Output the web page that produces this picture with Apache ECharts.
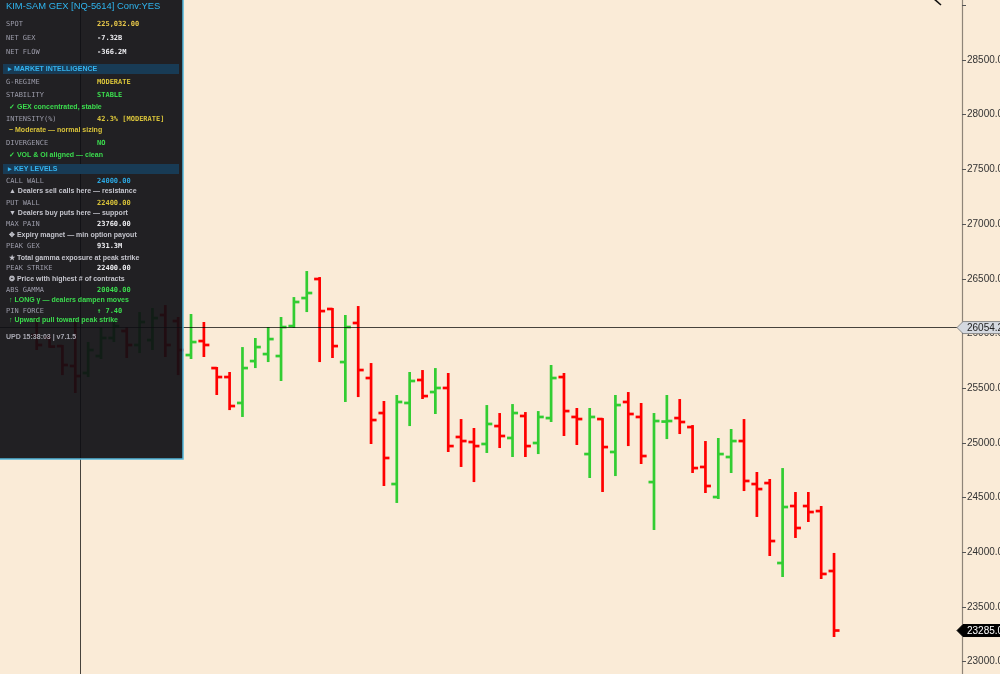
<!DOCTYPE html>
<html><head><meta charset="utf-8">
<script src="https://cdn.jsdelivr.net/npm/echarts@6/dist/echarts.min.js"></script>
<style>html,body{margin:0;padding:0;background:#faebd7;overflow:hidden}#c{width:1000px;height:674px}</style>
</head><body><div id="c"></div>
<script>
// ---- OHLC data (one entry per bar, oldest first) ----
const opens  = [25986,25960,25885,25703,25639,25794,25959,26023,25895,25940,26169,26114,
  25803,25931,25684,25602,25365,25748,25812,25794,26068,26324,26498,26224,25739,26096,
  25593,25273,24624,25365,25575,25465,25502,25054,25008,24990,25154,25045,25246,24999,
  25227,25602,25237,24898,25218,24917,25374,25237,24642,25195,25227,25145,24780,24505,
  24871,25017,24624,24633,23902,24423,24423,24377,23829];
const highs  = [26151,25986,25895,26105,25922,26059,26105,26059,26196,26233,26260,26151,
  26178,26105,25694,25648,25876,25959,26059,26151,26333,26571,26516,26233,26169,26251,
  25730,25383,25438,25648,25666,25684,25639,25218,25136,25346,25273,25355,25282,25291,
  25712,25639,25319,25319,25227,25438,25465,25365,25273,25438,25401,25163,25017,25045,
  25127,25218,24734,24670,24770,24551,24551,24423,23994];
const lows   = [25849,25870,25620,25456,25602,25767,25922,25776,25821,25849,25785,25620,
  25767,25785,25438,25300,25237,25684,25739,25566,26050,26196,25739,25776,25374,25419,
  24990,24606,24451,25154,25401,25264,24917,24780,24642,24908,24953,24871,24871,24898,
  25191,25063,24981,24679,24551,24697,24971,24807,24204,25035,25081,24725,24542,24487,
  24725,24560,24323,23966,23774,24131,24277,23756,23226];
const closes = [25895,25880,25712,25611,25849,25959,26068,25895,26105,26141,25895,25849,
  25922,25895,25602,25337,25684,25876,25949,26059,26288,26370,26205,25885,26059,25666,
  25209,24862,25374,25566,25428,25502,24971,25017,24971,25173,25063,25273,24971,25237,
  25593,25291,25218,25237,24962,25346,25264,24880,25200,25200,25191,24770,24606,24898,
  25017,24652,24578,24103,24414,24222,24368,23802,23285];

// ---- overlay readings ----
const crossPrice = 26054.2;   // horizontal cross-hair price
const crossBar   = 3.37;      // vertical cross-hair position (bar index)

const panelTitle = 'KIM-SAM GEX [NQ-5614] Conv:YES';
const panelRows = [
  ['kv','SPOT','225,032.00','yellow'],
  ['kv','NET GEX','-7.32B','white'],
  ['kv','NET FLOW','-366.2M','white'],
  ['sec','\u25B8 MARKET INTELLIGENCE'],
  ['kv','G-REGIME','MODERATE','gold'],
  ['kv','STABILITY','STABLE','green'],
  ['note','\u2713 GEX concentrated, stable','green'],
  ['kv','INTENSITY(%)','42.3% [MODERATE]','gold'],
  ['note','~ Moderate \u2014 normal sizing','gold'],
  ['kv','DIVERGENCE','NO','green'],
  ['note','\u2713 VOL & OI aligned \u2014 clean','green'],
  ['sec','\u25B8 KEY LEVELS'],
  ['kv','CALL WALL','24000.00','cyan'],
  ['note','\u25B2 Dealers sell calls here \u2014 resistance','gray'],
  ['kv','PUT WALL','22400.00','gold'],
  ['note','\u25BC Dealers buy puts here \u2014 support','gray'],
  ['kv','MAX PAIN','23760.00','white'],
  ['note','\u2725 Expiry magnet \u2014 min option payout','gray'],
  ['kv','PEAK GEX','931.3M','white'],
  ['note','\u2605 Total gamma exposure at peak strike','gray'],
  ['kv','PEAK STRIKE','22400.00','white'],
  ['note','\u2742 Price with highest # of contracts','gray'],
  ['kv','ABS GAMMA','20040.00','green'],
  ['note','\u2191 LONG \u03B3 \u2014 dealers dampen moves','green'],
  ['kv','PIN FORCE','\u2191 7.40','green'],
  ['note','\u2191 Upward pull toward peak strike','green'],
  ['foot','UPD 15:38:03 | v7.1.5']
];

// ---- styles / layout ----
const GREEN = '#32cd32', RED = '#ff0000';
const PAL = {yellow:'#e8c84a', gold:'#d9c33a', white:'#ececf0', green:'#3bdc4e', cyan:'#2ba8e2', gray:'#c4c4cc'};
const rowY = [24,38,52,69,82,95,107,119,130,143,155,169,181.5,191,203.5,213,224.5,235.5,246.5,258,268.5,279,290.5,300,311,320.5,337.5];

const ohlc = opens.map((o, i) => [i, o, highs[i], lows[i], closes[i]]);

function renderOHLC(params, api) {
  const i = api.value(0), o = api.value(1), h = api.value(2), l = api.value(3), c = api.value(4);
  const pH = api.coord([i, h]), pL = api.coord([i, l]), pO = api.coord([i, o]), pC = api.coord([i, c]);
  const col = c >= o ? GREEN : RED;
  const x = pH[0];
  const st = {stroke: col, lineWidth: 2.7};
  return {type: 'group', children: [
    {type: 'line', shape: {x1: x, y1: pH[1], x2: x, y2: pL[1]}, style: st},
    {type: 'line', shape: {x1: x - 5.5, y1: pO[1], x2: x, y2: pO[1]}, style: st},
    {type: 'line', shape: {x1: x, y1: pC[1], x2: x + 5.5, y2: pC[1]}, style: st}
  ]};
}

const chart = echarts.init(document.getElementById('c'), null, {renderer: 'canvas'});
chart.setOption({
  backgroundColor: '#faebd7',
  animation: false,
  grid: {left: 0, right: 38, top: -49.4, bottom: -42.4, containLabel: false, outerBoundsMode: 'none'},
  xAxis: {type: 'value', min: -2.854, max: 71.95, show: false},
  yAxis: {
    type: 'value', position: 'right', min: 22500, max: 29500, interval: 500, scale: true,
    axisLine: {show: true, onZero: false, lineStyle: {color: '#8e8478', width: 1.2}},
    axisTick: {show: true, length: 4, lineStyle: {color: '#555'}},
    splitLine: {show: false},
    axisLabel: {margin: 5, color: '#333', fontSize: 10, fontFamily: 'Liberation Sans',
      formatter: v => (v > 28900 ? '' : v.toFixed(2))}
  },
  series: [
    {type: 'custom', name: 'NQ', renderItem: renderOHLC, data: ohlc, z: 2, clip: false,
     encode: {x: 0, y: [1, 2, 3, 4]}},
    {type: 'line', data: [], z: 100, silent: true,
     markLine: {symbol: 'none', silent: true, label: {show: false}, animation: false,
       lineStyle: {color: 'rgba(0,0,0,0.72)', width: 1, type: 'solid'},
       data: [{yAxis: crossPrice}, {xAxis: crossBar}]}}
  ]
});

// ---- overlay graphics (panel + price tags) ----
const g = [];
g.push({type: 'rect', z: 50, shape: {x: -2, y: -2, width: 185, height: 461},
  style: {fill: 'rgba(14,14,20,0.92)', stroke: '#52b6dc', lineWidth: 1.5}});
g.push({type: 'text', z: 51, style: {text: panelTitle, x: 6, y: 6.5, fill: '#2fb5ef',
  font: '9.4px "Liberation Sans"', verticalAlign: 'middle'}});
panelRows.forEach((r, idx) => {
  const y = rowY[idx];
  if (r[0] === 'kv') {
    g.push({type: 'text', z: 51, style: {text: r[1], x: 6, y: y, fill: '#9c9caa',
      font: '7px "DejaVu Sans Mono"', verticalAlign: 'middle'}});
    g.push({type: 'text', z: 51, style: {text: r[2], x: 97, y: y, fill: PAL[r[3]],
      font: 'bold 7px "DejaVu Sans Mono"', verticalAlign: 'middle'}});
  } else if (r[0] === 'sec') {
    g.push({type: 'rect', z: 51, shape: {x: 3, y: y - 5, width: 176, height: 10},
      style: {fill: '#183b55'}});
    g.push({type: 'text', z: 52, style: {text: r[1], x: 8, y: y, fill: '#35b4f0',
      font: 'bold 7px "Liberation Sans"', verticalAlign: 'middle'}});
  } else if (r[0] === 'note') {
    g.push({type: 'text', z: 51, style: {text: r[1], x: 9, y: y, fill: PAL[r[2]],
      font: 'bold 7px "Liberation Sans"', verticalAlign: 'middle'}});
  } else {
    g.push({type: 'text', z: 51, style: {text: r[1], x: 6, y: y, fill: '#a8a8b2',
      font: 'bold 7px "Liberation Sans"', verticalAlign: 'middle'}});
  }
});

function tag(price, text, fill, stroke, color) {
  const p = chart.convertToPixel({gridIndex: 0}, [0, price]);
  const y = p[1];
  const ax = 962;
  g.push({type: 'polygon', z: 120, shape: {points: [[ax - 5, y], [ax + 1, y - 6], [1001, y - 6], [1001, y + 6], [ax + 1, y + 6]]},
    style: {fill: fill, stroke: stroke, lineWidth: 1}});
  g.push({type: 'text', z: 121, style: {text: text, x: ax + 5, y: y + 0.5, fill: color,
    font: '10px "Liberation Sans"', verticalAlign: 'middle'}});
}
tag(crossPrice, crossPrice.toFixed(1), '#d5d9e0', '#8a8a8a', '#222');
tag(closes[closes.length - 1], closes[closes.length - 1].toFixed(2), '#000', '#000', '#fff');

// small drawing stroke at the top edge
g.push({type: 'line', z: 60, shape: {x1: 933, y1: -2, x2: 941, y2: 5}, style: {stroke: '#111', lineWidth: 1.6}});

chart.setOption({graphic: g});
</script></body></html>
